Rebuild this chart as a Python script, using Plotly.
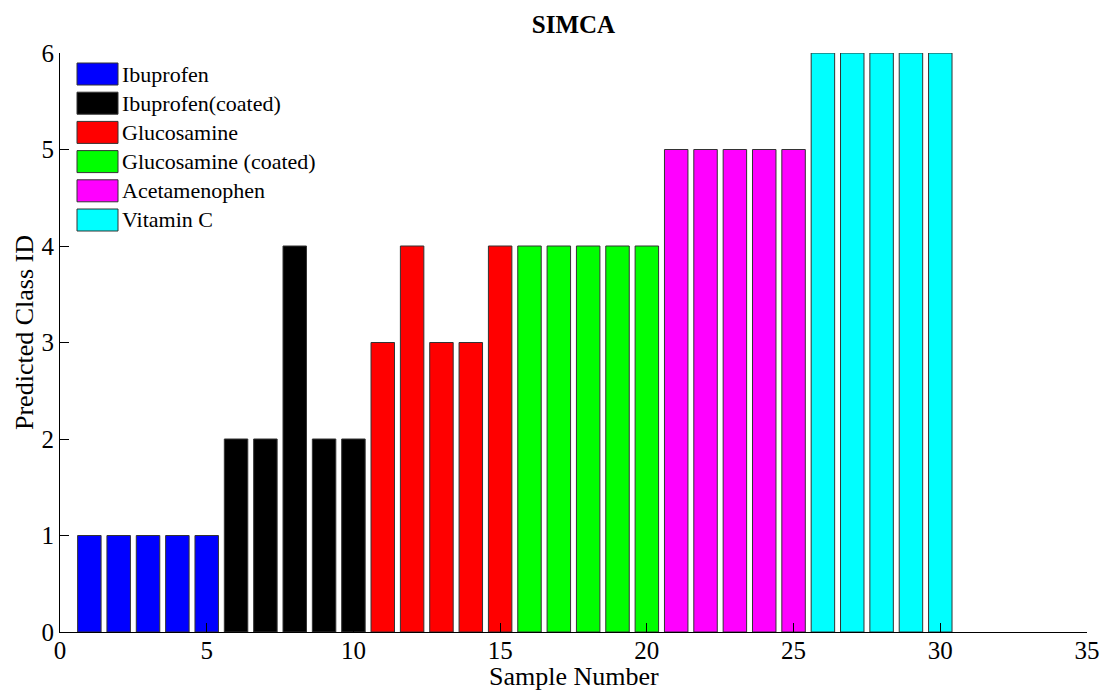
import plotly.graph_objects as go

# ---- data ----
groups = ["Ibuprofen", "Ibuprofen(coated)", "Glucosamine",
          "Glucosamine (coated)", "Acetamenophen", "Vitamin C"]
colors = ["#0000FF", "#000000", "#FF0000", "#00FF00", "#FF00FF", "#00FFFF"]
samples = list(range(1, 31))
predicted = [1, 1, 1, 1, 1,
             2, 2, 4, 2, 2,
             3, 4, 3, 3, 4,
             4, 4, 4, 4, 4,
             5, 5, 5, 5, 5,
             6, 6, 6, 6, 6]
group_size = 5
x_ticks = [0, 5, 10, 15, 20, 25, 30, 35]
y_ticks = [0, 1, 2, 3, 4, 5, 6]

FONT = "Liberation Serif, Times New Roman, serif"
W, H = 1100, 691
# plot area in page pixels
PX0, PX1, PY0, PY1 = 60, 1087, 53, 632
L, R, T, B = PX0, W - PX1, PY0, H - PY1
pw, ph = PX1 - PX0, PY1 - PY0


def px(xp):
    return (xp - PX0) / pw


def py(yp):
    return (PY1 - yp) / ph


fig = go.Figure()
for gi, (name, col) in enumerate(zip(groups, colors)):
    xs = samples[gi * group_size:(gi + 1) * group_size]
    ys = predicted[gi * group_size:(gi + 1) * group_size]
    fig.add_trace(go.Bar(
        x=xs, y=ys, name=name, width=0.8,
        marker=dict(color=col, line=dict(color="#333333", width=1)),
        showlegend=False,
    ))

# custom legend (MATLAB-style large swatches)
sw_x0, sw_x1 = 77, 118
row_top0, row_h, row_pitch = 63, 22, 29.2
for i, (name, col) in enumerate(zip(groups, colors)):
    top = row_top0 + i * row_pitch
    bot = top + row_h
    fig.add_shape(type="rect", xref="paper", yref="paper",
                  x0=px(sw_x0), x1=px(sw_x1), y0=py(bot), y1=py(top),
                  fillcolor=col, line=dict(color="#333333", width=1))
    fig.add_annotation(xref="paper", yref="paper",
                       x=px(sw_x1), y=py((top + bot) / 2),
                       text=name, showarrow=False, xanchor="left", yanchor="middle",
                       xshift=2,
                       font=dict(family=FONT, size=22, color="black"))

# axis titles
fig.add_annotation(xref="paper", yref="paper", x=0.5, y=py(676),
                   text="Sample Number", showarrow=False,
                   xanchor="center", yanchor="middle",
                   font=dict(family=FONT, size=26, color="black"))
fig.add_annotation(xref="paper", yref="paper", x=px(24), y=py(333),
                   text="Predicted Class ID", showarrow=False, textangle=-90,
                   xanchor="center", yanchor="middle",
                   font=dict(family=FONT, size=26, color="black"))

axis_common = dict(showgrid=False, zeroline=False, showline=True,
                   linecolor="black", linewidth=1, ticks="inside",
                   ticklen=9, tickcolor="black", mirror=False, automargin=False,
                   tickfont=dict(family=FONT, size=25, color="black"))

fig.update_layout(
    width=W, height=H,
    margin=dict(l=L, r=R, t=T, b=B, autoexpand=False),
    plot_bgcolor="white", paper_bgcolor="white",
    font=dict(family=FONT, color="black"),
    title=dict(text="<b>SIMCA</b>", x=(PX0 + pw / 2) / W, xanchor="center",
               y=1 - 24 / H, yanchor="middle",
               font=dict(family=FONT, size=25, color="black")),
    bargap=0.2,
    xaxis=dict(range=[0, 35], tickvals=x_ticks, ticklabelstandoff=-4, **axis_common),
    yaxis=dict(range=[0, 6], tickvals=y_ticks, ticklabelstandoff=0, **axis_common),
)

fig.write_html(
    "out.html",
    config={"displayModeBar": False},
    post_script="document.body.style.margin='0';document.body.style.overflow='hidden';",
)
